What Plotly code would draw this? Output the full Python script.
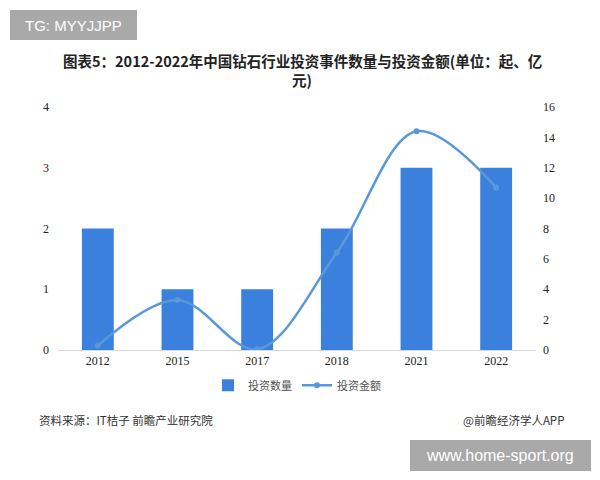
import plotly.graph_objects as go

years = ["2012", "2015", "2017", "2018", "2021", "2022"]
counts = [2, 1, 1, 2, 3, 3]
amounts = [0.3, 3.3, 0.05, 6.4, 14.4, 10.7]
left_ticks = [0, 1, 2, 3, 4]
right_ticks = [0, 2, 4, 6, 8, 10, 12, 14, 16]

title_line1 = "图表5：2012-2022年中国钻石行业投资事件数量与投资金额(单位：起、亿"
title_line2 = "元)"
source_text = "资料来源：IT桔子 前瞻产业研究院"
credit_text = "@前瞻经济学人APP"

BAR = "#3b80dc"
LINE = "#5b98d8"
CJK = "Noto Sans CJK SC"
SERIF = "Liberation Serif"

fig = go.Figure()
fig.add_trace(go.Bar(x=years, y=counts, name="投资数量", marker=dict(color=BAR, line=dict(width=0)),
                     yaxis="y"))
fig.add_trace(go.Scatter(x=years, y=amounts, name="投资金额", mode="lines+markers",
                         line=dict(color=LINE, width=2.5, shape="spline", smoothing=1.0),
                         marker=dict(color=LINE, size=6), yaxis="y2"))

fig.update_layout(
    width=600, height=480,
    margin=dict(l=58, r=64, t=107, b=130),
    paper_bgcolor="white", plot_bgcolor="white",
    bargap=0.6,
    showlegend=True,
    legend=dict(orientation="h", x=0.5, xanchor="center", y=-0.145, yanchor="middle",
                font=dict(family=CJK, size=11, color="#555"), itemwidth=30, tracegroupgap=0),
    xaxis=dict(type="category", showgrid=False, showline=True, linecolor="#d9d9d9", linewidth=1,
               ticks="", tickfont=dict(family=SERIF, size=12, color="#222"), zeroline=False),
    yaxis=dict(range=[0, 4], tickvals=left_ticks, showgrid=False, zeroline=False, showline=False,
               tickfont=dict(family=SERIF, size=12, color="#222"), ticklabelstandoff=8),
    yaxis2=dict(range=[0, 16], tickvals=right_ticks, overlaying="y", side="right", showgrid=False,
                zeroline=False, showline=False, tickfont=dict(family=SERIF, size=12, color="#222"),
                ticklabelstandoff=6),
)

def px(x):
    return (x - 58) / 478

def py(y):
    return (350 - y) / 243

fig.add_annotation(text="<b>" + title_line1 + "</b>",
                   xref="paper", yref="paper", x=px(302), y=py(61),
                   xanchor="center", yanchor="middle", showarrow=False,
                   font=dict(family=CJK, size=14.5, color="#222"))
fig.add_annotation(text="<b>" + title_line2 + "</b>",
                   xref="paper", yref="paper", x=px(302), y=py(79),
                   xanchor="center", yanchor="middle", showarrow=False,
                   font=dict(family=CJK, size=14.5, color="#222"))

# top-left label box
fig.add_shape(type="rect", xref="paper", yref="paper",
              x0=px(10), x1=px(137), y0=py(40), y1=py(10),
              fillcolor="#a9a9a9", line=dict(width=0), layer="above")
fig.add_annotation(text="TG: MYYJJPP", xref="paper", yref="paper",
                   x=px(73), y=py(25), xanchor="center", yanchor="middle",
                   showarrow=False, font=dict(family="Liberation Sans", size=15, color="white"))

# footer
fig.add_annotation(text=source_text, xref="paper", yref="paper", x=px(37), y=py(420),
                   xanchor="left", yanchor="middle", showarrow=False,
                   font=dict(family=CJK, size=11.5, color="#333"))
fig.add_annotation(text=credit_text, xref="paper", yref="paper", x=px(566), y=py(420),
                   xanchor="right", yanchor="middle", showarrow=False,
                   font=dict(family=CJK, size=11.5, color="#333"))

# bottom-right box
fig.add_shape(type="rect", xref="paper", yref="paper",
              x0=px(410), x1=px(591), y0=py(471), y1=py(440),
              fillcolor="#a9a9a9", line=dict(width=0), layer="above")
fig.add_annotation(text="www.home-sport.org", xref="paper", yref="paper",
                   x=px(500), y=py(455), xanchor="center", yanchor="middle",
                   showarrow=False, font=dict(family="Liberation Sans", size=16, color="white"))

fig.write_html("out.html")
